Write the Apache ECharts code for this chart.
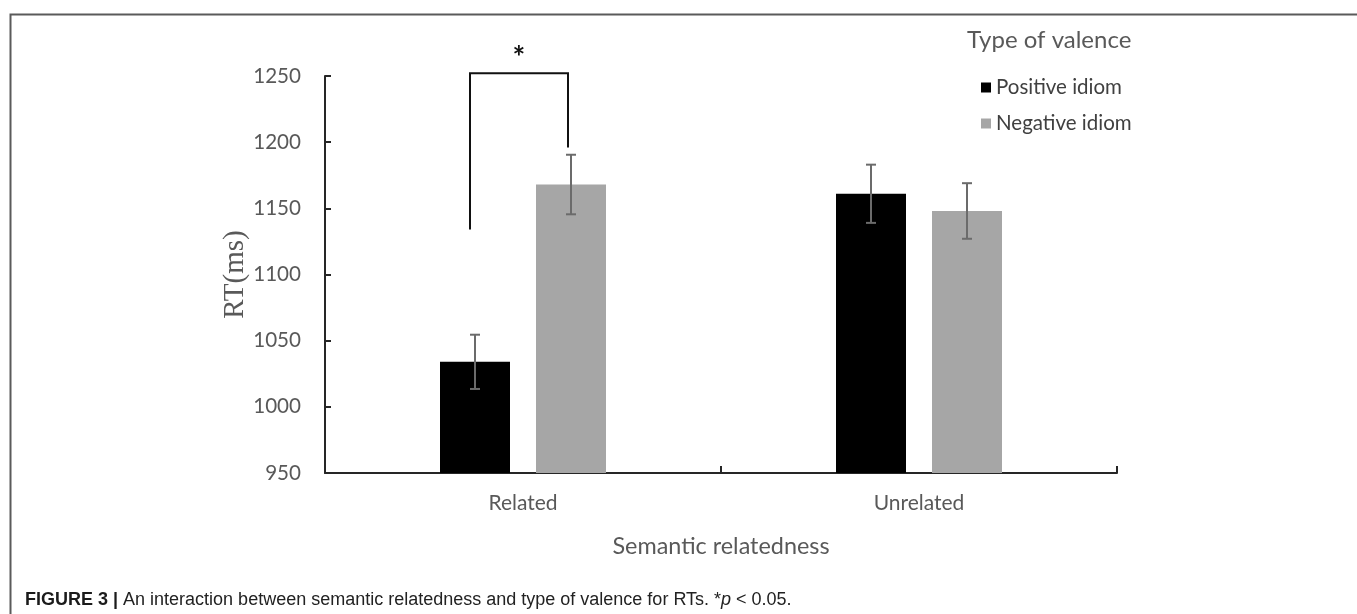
<!DOCTYPE html>
<html>
<head>
<meta charset="utf-8">
<script src="https://cdn.jsdelivr.net/npm/echarts@6/dist/echarts.min.js"></script>
<style>html,body{margin:0;padding:0;background:#fff}#c{width:1357px;height:614px}</style>
</head>
<body>
<div id="c"></div>
<script>
var categories = ['Related', 'Unrelated'];
var seriesNames = ['Positive idiom', 'Negative idiom'];
var positiveMeans = [1034, 1161];
var negativeMeans = [1168, 1148];
var positiveErr = [20.5, 22];
var negativeErr = [22.5, 21];
var yTicks = [950, 1000, 1050, 1100, 1150, 1200, 1250];
// significance bracket: [category index, left end value, right end value, top value, star value]
var bracket = [0, 1134, 1196, 1252, 1263];

var BAR_W = 70, BAR_GAP = 26;
var OFFSET = (BAR_W + BAR_GAP) / 2;
var FONT = 'Lato, "Open Sans", sans-serif';
var CAP_FONT = '"Liberation Sans", Arial, sans-serif';

var chart = echarts.init(document.getElementById('c'));

function errItem(sign) {
  return function (params, api) {
    var c = api.value(0), v = api.value(1), e = api.value(2);
    var hi = api.coord([c, v + e]), lo = api.coord([c, v - e]);
    var x = hi[0] + sign * OFFSET;
    var cap = 5;
    var st = { stroke: '#6b6b6b', lineWidth: 2 };
    return { type: 'group', children: [
      { type: 'line', shape: { x1: x, y1: hi[1], x2: x, y2: lo[1] }, style: st },
      { type: 'line', shape: { x1: x - cap, y1: hi[1], x2: x + cap, y2: hi[1] }, style: st },
      { type: 'line', shape: { x1: x - cap, y1: lo[1], x2: x + cap, y2: lo[1] }, style: st }
    ]};
  };
}

var option = {
  animation: false,
  backgroundColor: '#ffffff',
  graphic: [{
    type: 'rect', left: 8, top: 12, silent: true,
    shape: { width: 1348, height: 640 },
    style: { fill: 'none', stroke: '#5a5a5a', lineWidth: 2 }
  }],
  title: [{
    text: 'Type of valence', left: 962, top: 23,
    textStyle: { fontFamily: FONT, fontSize: 24, fontWeight: 'normal', color: '#595959' }
  }, {
    text: '{b|FIGURE 3 |} An interaction between semantic relatedness and type of valence for RTs. *{i|p} < 0.05.',
    left: 20, top: 586,
    textStyle: {
      fontFamily: CAP_FONT, fontSize: 18, fontWeight: 'normal', color: '#222',
      rich: {
        b: { fontFamily: CAP_FONT, fontSize: 18, fontWeight: 'bold', color: '#1b1b1b' },
        i: { fontFamily: CAP_FONT, fontSize: 18, fontStyle: 'italic', color: '#222' }
      }
    }
  }],
  legend: {
    orient: 'vertical', left: 976, top: 72,
    itemWidth: 10, itemHeight: 10, itemGap: 15,
    icon: 'rect',
    data: seriesNames,
    textStyle: { fontFamily: FONT, fontSize: 20.5, color: '#404040' }
  },
  grid: { left: 325, right: 240, top: 76, bottom: 141, containLabel: false },
  xAxis: {
    type: 'category', data: categories,
    name: 'Semantic relatedness', nameLocation: 'middle', nameGap: 62, nameMoveOverlap: false,
    nameTextStyle: { fontFamily: FONT, fontSize: 23.4, color: '#595959' },
    axisLine: { lineStyle: { color: '#262626', width: 2 } },
    axisTick: { show: true, inside: true, length: 7, lineStyle: { color: '#262626', width: 2 } },
    axisLabel: { fontFamily: FONT, fontSize: 21, color: '#595959', margin: 20 }
  },
  yAxis: {
    type: 'value', min: 950, max: 1250, interval: 50,
    name: 'RT(ms)', nameLocation: 'middle', nameGap: 75, nameRotate: 90, nameMoveOverlap: false,
    nameTextStyle: { fontFamily: '"Liberation Serif", "Times New Roman", serif', fontSize: 29, color: '#595959' },
    axisLine: { show: true, lineStyle: { color: '#262626', width: 2 } },
    axisTick: { show: true, inside: true, length: 6, lineStyle: { color: '#262626', width: 2 } },
    axisLabel: { fontFamily: FONT, fontSize: 20.6, color: '#595959', margin: 24,
      formatter: function (v) { return yTicks.indexOf(v) >= 0 ? String(v) : ''; } },
    splitLine: { show: false }
  },
  series: [{
    name: seriesNames[0], type: 'bar', data: positiveMeans,
    barWidth: BAR_W, barGap: (BAR_GAP / BAR_W * 100) + '%',
    itemStyle: { color: '#000000' }
  }, {
    name: seriesNames[1], type: 'bar', data: negativeMeans,
    barWidth: BAR_W,
    itemStyle: { color: '#a6a6a6' }
  }, {
    type: 'custom', renderItem: errItem(-1), z: 5,
    data: categories.map(function (c, i) { return [i, positiveMeans[i], positiveErr[i]]; })
  }, {
    type: 'custom', renderItem: errItem(1), z: 5,
    data: categories.map(function (c, i) { return [i, negativeMeans[i], negativeErr[i]]; })
  }, {
    type: 'custom', clip: false, z: 6,
    renderItem: function (params, api) {
      var c = api.value(0);
      var pl = api.coord([c, api.value(1)]);
      var pr = api.coord([c, api.value(2)]);
      var pt = api.coord([c, api.value(3)]);
      var ps = api.coord([c, api.value(4)]);
      var xl = pl[0] - OFFSET - 5, xr = pl[0] + OFFSET - 3;
      var st = { stroke: '#111', lineWidth: 2, fill: 'none' };
      return { type: 'group', children: [
        { type: 'polyline', shape: { points: [[xl, pl[1]], [xl, pt[1]], [xr, pt[1]], [xr, pr[1]]] }, style: st },
        { type: 'text', style: { text: '*', x: (xl + xr) / 2, y: ps[1], align: 'center', verticalAlign: 'middle',
          font: 'bold 30px ' + FONT, fill: '#111' } }
      ]};
    },
    data: [bracket]
  }]
};
chart.setOption(option);
</script>
</body>
</html>
